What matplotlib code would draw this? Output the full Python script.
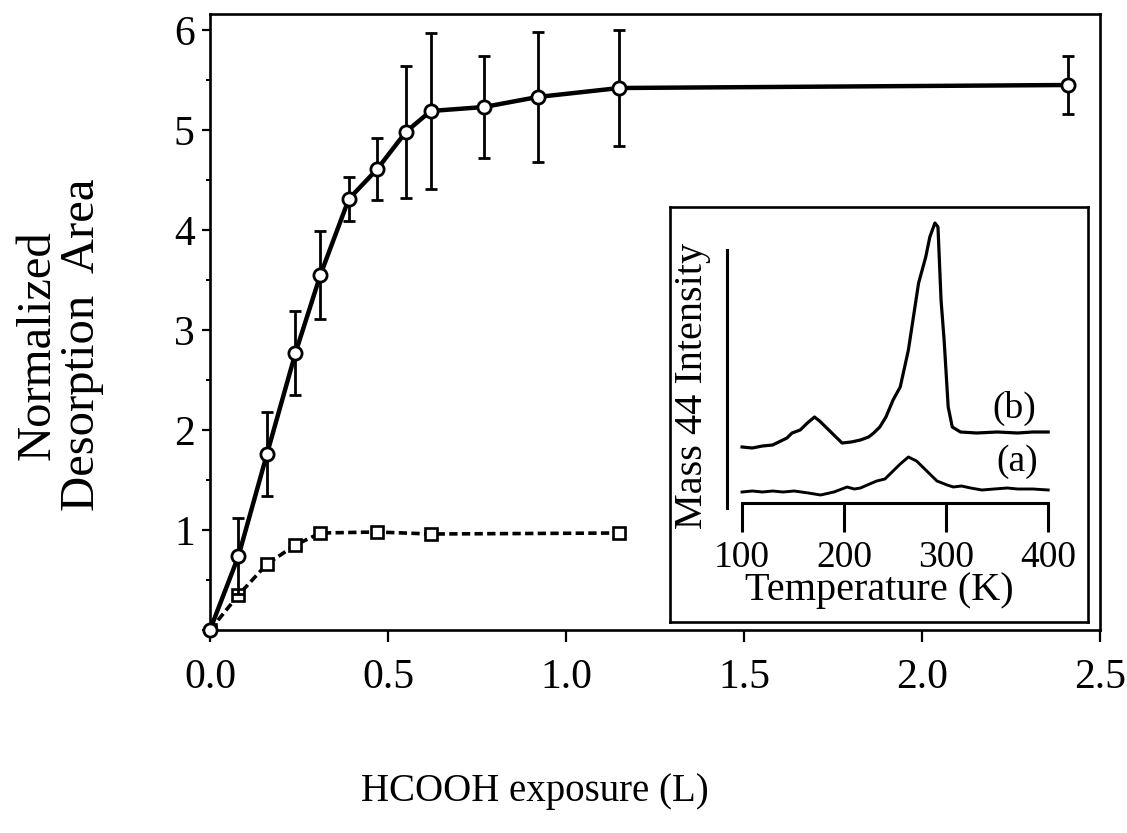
import matplotlib
matplotlib.use("Agg")
import matplotlib.pyplot as plt
from matplotlib.ticker import MultipleLocator

plt.rcParams['font.family'] = ['Liberation Serif', 'DejaVu Serif']

# Main panel: HCOOH exposure (L) vs normalized desorption area
expo_circ = [0, 0.08, 0.16, 0.24, 0.31, 0.39, 0.47, 0.55, 0.62, 0.77, 0.92, 1.15, 2.41]
area_circ = [0, 0.74, 1.76, 2.77, 3.55, 4.31, 4.61, 4.98, 5.19, 5.23, 5.33, 5.42, 5.45]
err_circ = [0, 0.38, 0.42, 0.42, 0.44, 0.22, 0.31, 0.66, 0.78, 0.51, 0.65, 0.58, 0.29]

expo_sq = [0, 0.08, 0.16, 0.24, 0.31, 0.47, 0.62, 1.15]
area_sq = [0, 0.35, 0.66, 0.85, 0.97, 0.98, 0.96, 0.97]

xticks = [0.0, 0.5, 1.0, 1.5, 2.0, 2.5]
xticklabels = ['0.0', '0.5', '1.0', '1.5', '2.0', '2.5']
yticks = [0, 1, 2, 3, 4, 5, 6]
yticklabels = ['', '1', '2', '3', '4', '5', '6']

# Inset: mass 44 TPD traces
temp_b = [100, 110, 120, 130, 144, 149, 157, 164, 171, 176, 182, 190, 198, 207, 216, 224, 229,
          235, 241, 248, 255, 263, 273, 280, 284, 289, 292, 295, 298, 302, 306, 314, 330, 350,
          370, 385, 400]
int_b = [5.6, 5.5, 5.7, 5.8, 6.5, 7.0, 7.3, 8.0, 8.6, 8.2, 7.6, 6.8, 6.0, 6.1, 6.3, 6.6, 7.0,
         7.6, 8.6, 10.3, 11.6, 15.3, 22.0, 24.6, 26.6, 28.0, 27.6, 20.3, 16.3, 9.6, 7.6, 7.1, 7.0,
         7.1, 7.0, 7.1, 7.1]

temp_a = [100, 110, 120, 130, 140, 151, 165, 177, 190, 203, 210, 216, 225, 232, 240, 245, 255,
          263, 271, 281, 291, 301, 307, 315, 324, 335, 347, 360, 370, 385, 400]
int_a = [1.1, 1.2, 1.1, 1.2, 1.1, 1.2, 1.0, 0.8, 1.1, 1.6, 1.4, 1.5, 1.9, 2.2, 2.4, 2.9, 3.9,
         4.6, 4.2, 3.2, 2.2, 1.8, 1.6, 1.7, 1.5, 1.3, 1.4, 1.5, 1.4, 1.4, 1.3]
temp_ticks = [100, 200, 300, 400]

W, H = 1127, 833
fig = plt.figure(figsize=(W / 100, H / 100), dpi=100)

ax = fig.add_axes([210 / W, 1 - 630 / H, (1100 - 210) / W, (630 - 14) / H])
ax.errorbar(expo_circ, area_circ, yerr=err_circ, fmt='-o', color='k', lw=3.2, ms=9.5,
            mfc='white', mec='k', mew=2.0, ecolor='k', elinewidth=2.0, capsize=4.5,
            capthick=2.2, zorder=3, clip_on=False)
ax.plot(expo_sq, area_sq, color='k', lw=2.6, dashes=(2.3, 1.2), marker='s', ms=8.5,
        mfc='white', mec='k', mew=1.9, zorder=2)

ax.set_xlim(0, 2.5)
ax.set_ylim(0, 6.16)
ax.set_xticks(xticks)
ax.set_xticklabels(xticklabels)
ax.set_yticks(yticks)
ax.set_yticklabels(yticklabels)
ax.yaxis.set_minor_locator(MultipleLocator(0.5))
ax.tick_params(axis='x', direction='out', length=8.5, width=1.6, pad=12, labelsize=30)
ax.tick_params(axis='y', which='major', direction='out', length=6, width=1.6, pad=5, labelsize=30)
ax.tick_params(axis='y', which='minor', direction='out', length=3, width=1.4)
for s in ax.spines.values():
    s.set_linewidth(1.9)

fig.text(60 / W, 1 - 345 / H, 'Normalized\nDesorption  Area', rotation=90, ha='center',
         va='center', multialignment='center', fontsize=35, linespacing=1.0)
fig.text(535 / W, 1 - 801 / H, 'HCOOH exposure (L)', ha='center', va='baseline', fontsize=28)

# Inset frame
box = [670 / W, 1 - 622 / H, (1088 - 670) / W, (622 - 207) / H]
frame = fig.add_axes(box, zorder=5)
frame.set_xticks([])
frame.set_yticks([])
for s in frame.spines.values():
    s.set_linewidth(1.9)

axi = fig.add_axes(box, zorder=6)
axi.patch.set_alpha(0)
axi.plot(temp_b, int_b, color='k', lw=2.3)
axi.plot(temp_a, int_a, color='k', lw=2.1)
axi.set_xlim(29.4, 439)
axi.set_ylim(-11.9, 29.6)
axi.spines['top'].set_visible(False)
axi.spines['right'].set_visible(False)
axi.spines['bottom'].set_position(('data', 0))
axi.spines['bottom'].set_bounds(temp_ticks[0], temp_ticks[-1])
axi.spines['left'].set_position(('data', 85.3))
axi.spines['left'].set_bounds(-0.5, 25.3)
axi.spines['bottom'].set_linewidth(2.2)
axi.spines['left'].set_linewidth(2.2)
axi.set_xticks(temp_ticks)
axi.set_yticks([])
axi.tick_params(axis='x', direction='out', length=21, width=2.2, pad=6, labelsize=27)
axi.set_xlabel('Temperature (K)', fontsize=29, labelpad=-2)
axi.text(0.053, 0.569, 'Mass 44 Intensity', transform=axi.transAxes, rotation=90,
         ha='center', va='center', fontsize=29)
axi.text(367, 9.5, '(b)', ha='center', va='center', fontsize=27)
axi.text(370, 4.1, '(a)', ha='center', va='center', fontsize=27)

fig.savefig('out.png', dpi=100)
